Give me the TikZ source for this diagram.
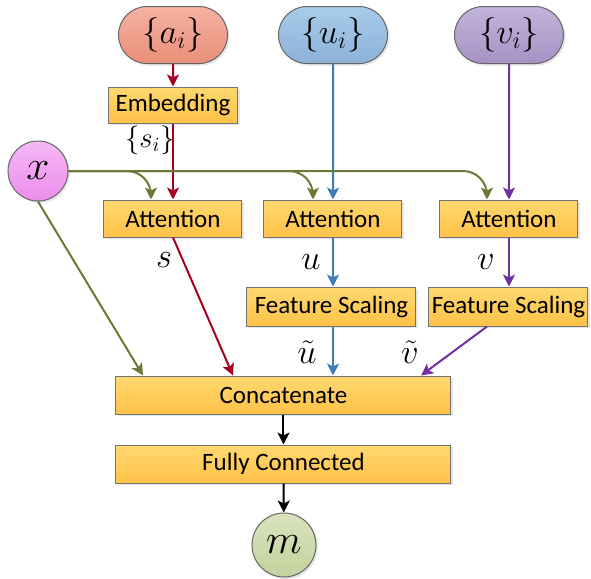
\documentclass[tikz,border=0pt]{standalone}
\usepackage{amssymb}
\usepackage{amsmath}
\usepackage{xcolor}
\usepackage{fontspec}
\setmainfont{Carlito}
\usepackage{tikz}
\usetikzlibrary{arrows.meta,shapes.misc,shadows}

\definecolor{boxtop}{HTML}{FFD870}
\definecolor{boxbot}{HTML}{FFC247}
\definecolor{atop}{HTML}{F5B2A2}
\definecolor{abot}{HTML}{E98E78}
\definecolor{utop}{HTML}{A9CBEA}
\definecolor{ubot}{HTML}{8CB2D8}
\definecolor{vtop}{HTML}{C2B3DA}
\definecolor{vbot}{HTML}{A692C4}
\definecolor{xtop}{HTML}{F6B8F6}
\definecolor{xbot}{HTML}{EC8DEC}
\definecolor{mtop}{HTML}{DAE3BE}
\definecolor{mbot}{HTML}{C3D19C}
\definecolor{redline}{HTML}{A50021}
\definecolor{blueline}{HTML}{3E7DB6}
\definecolor{purpleline}{HTML}{7030A0}
\definecolor{greenline}{HTML}{6A7A36}

\begin{document}
\begin{tikzpicture}[x=0.5pt,y=-0.5pt,
    box/.style={draw=black!55,line width=0.5pt,top color=boxtop,bottom color=boxbot,
        inner sep=0pt,font=\fontsize{12.5}{14}\selectfont,
        drop shadow={shadow xshift=1.2pt,shadow yshift=-1.2pt,opacity=0.2}},
    pill/.style={rounded rectangle,draw=black!60,line width=0.5pt,minimum width=54.5pt,
        minimum height=28.5pt,inner sep=0pt,font=\fontsize{18}{20}\selectfont,
        drop shadow={shadow xshift=1pt,shadow yshift=-1pt,opacity=0.2}},
    ball/.style={circle,draw=black!60,line width=0.5pt,inner sep=0pt,
        font=\fontsize{20}{22}\selectfont,
        drop shadow={shadow xshift=1pt,shadow yshift=-1pt,opacity=0.2}},
    lab/.style={font=\fontsize{16}{18}\selectfont,inner sep=0pt},
    arr/.style={line width=1pt,-{Stealth[length=6pt,width=6pt,inset=1.5pt]}}]
            \useasboundingbox (0,0) rectangle (591,579);

            % inputs
            \node[pill,top color=atop,bottom color=abot] at (173,35) (a) {$\{a_i\}$};
            \node[pill,top color=utop,bottom color=ubot] at (333,35) (u) {$\{u_i\}$};
            \node[pill,top color=vtop,bottom color=vbot] at (509,35) (v) {$\{v_i\}$};
            \node[ball,minimum size=30pt,top color=xtop,bottom color=xbot] at (38,171) (x) {$x$};

            % blocks
            \node[box,minimum width=64.5pt,minimum height=18pt] at (173,105) (emb) {Embedding};
            \node[box,minimum width=69pt,minimum height=18.5pt] at (173,218.5) (att1) {Attention};
            \node[box,minimum width=69pt,minimum height=18.5pt] at (333,218.5) (att2) {Attention};
            \node[box,minimum width=69pt,minimum height=18.5pt] at (509,218.5) (att3) {Attention};
            \node[box,minimum width=84.5pt,minimum height=19.5pt] at (331.5,306.5) (fs1) {Feature Scaling};
            \node[box,minimum width=79.5pt,minimum height=19.5pt] at (508.5,306.5) (fs2) {Feature Scaling};
            \node[box,minimum width=167.5pt,minimum height=19pt] at (283.5,395) (cat) {Concatenate};
            \node[box,minimum width=167.5pt,minimum height=19pt] at (283.5,464) (fc) {Fully Connected};
            \node[ball,minimum size=32pt,top color=mtop,bottom color=mbot] at (284,545) (m) {$m$};

            % labels
            \node[lab,font=\fontsize{14}{16}\selectfont] at (150,140) (si) {$\{s_i\}$};
            \node[lab] at (164,260) (s) {$s$};
            \node[lab] at (311,262) (ul) {$u$};
            \node[lab] at (486,262) (vl) {$v$};
            \node[lab] at (307,352) (ut) {$\tilde{u}$};
            \node[lab] at (410,352) (vt) {$\tilde{v}$};

            % red path
            \draw[arr,redline] (a) -- (emb);
            \draw[arr,redline] (emb) -- (att1);
            \draw[arr,redline] (att1.south) -- ([xshift=-25.25pt]cat.north);

            % blue path
            \draw[arr,blueline] (u) -- (att2);
            \draw[arr,blueline] (att2) -- (fs1.north -| att2.south);
            \draw[arr,blueline] (fs1.south -| att2.south) -- (cat.north -| att2.south);

            % purple path
            \draw[arr,purpleline] (v) -- (att3);
            \draw[arr,purpleline] (att3.south) -- (fs2.north -| att3.south);
            \draw[arr,purpleline] ([xshift=-10.75pt]fs2.south) -- ([xshift=68.75pt]cat.north);

            % x to everything
            \draw[arr,greenline,rounded corners=12pt] (x.east) -| ([xshift=-11pt]att1.north);
            \draw[arr,greenline,rounded corners=12pt] (x.east) -| ([xshift=-10pt]att2.north);
            \draw[arr,greenline,rounded corners=12pt] (x.east) -| ([xshift=-11pt]att3.north);
            \draw[arr,greenline] (x.south) -- ([xshift=-70.25pt]cat.north);

            % output
            \draw[arr,black] (cat) -- (fc);
            \draw[arr,black] (fc) -- (m);
        \end{tikzpicture}
\end{document}
